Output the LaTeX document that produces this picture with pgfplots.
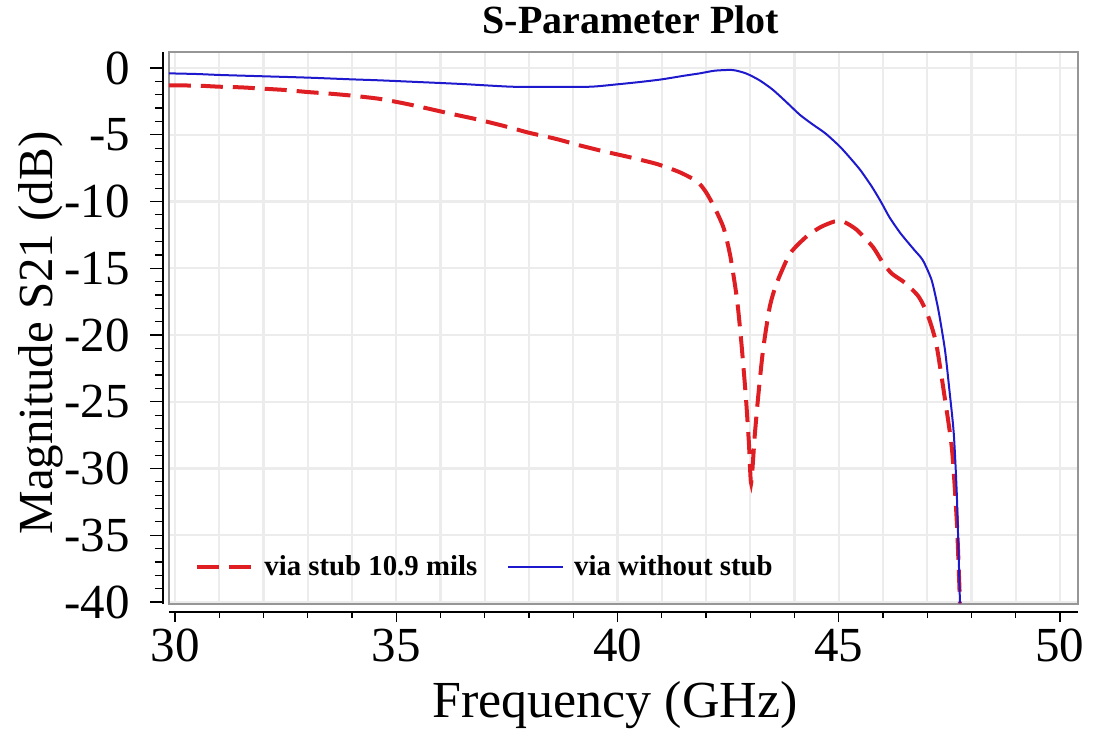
\documentclass[border=0pt]{standalone}
\usepackage{fontspec}
\setmainfont{Liberation Serif}
\usepackage{pgfplots}
\pgfplotsset{compat=1.18}
\definecolor{redc}{RGB}{222,30,35}
\definecolor{bluec}{RGB}{30,25,205}
\definecolor{gridc}{RGB}{236,236,236}
\definecolor{framec}{RGB}{150,150,150}
\begin{document}
\begin{tikzpicture}
\pgfplotsset{common/.style={width=454.5pt,height=276pt,scale only axis,
  xmin=29.864,xmax=50.407,ymin=-40.15,ymax=1.2}}
\begin{axis}[common,
  axis line style={framec, line width=0.9pt},
  xtick={30,31,...,50}, ytick={0,-5,...,-40}, xticklabels={}, yticklabels={},
  major tick length=0pt,
  grid=major, major grid style={gridc, line width=1.2pt},
  title={S-Parameter Plot},
  title style={font=\bfseries\fontsize{20}{24}\selectfont, at={([yshift=3pt]axis description cs:0.508,1)}, anchor=base},
  xlabel={Frequency (GHz)},
  xlabel style={font=\fontsize{26}{30}\selectfont, at={([yshift=-56.5pt]axis description cs:0.4906,0)}, anchor=base},
  ylabel={Magnitude S21 (dB)},
  ylabel style={font=\fontsize{24.5}{28}\selectfont, at={([xshift=-58pt]axis description cs:0,0.491)}, anchor=base},
  legend columns=2,
  legend style={draw=none, fill=none, at={([xshift=13pt,yshift=18.5pt]axis description cs:0,0)}, anchor=west,
    font=\bfseries\fontsize{14.4}{16}\selectfont, inner sep=0pt,
    /tikz/every odd column/.append style={column sep=3pt},
    /tikz/every even column/.append style={column sep=13pt}},
  legend image code/.code={\draw[#1] (0pt,0pt) -- (27.5pt,0pt);},
]
\addplot[redc, line width=2pt, dash pattern=on 11pt off 5pt, smooth, tension=0.4] coordinates {
(29.86,-1.3) (30.5,-1.32) (31.0,-1.4) (31.5,-1.45) (32.0,-1.55) (32.5,-1.65) (33.0,-1.8)
(33.5,-1.92) (34.0,-2.07) (34.6,-2.3) (35.1,-2.6) (35.6,-2.95) (36.2,-3.4) (36.9,-3.9)
(37.5,-4.4) (38.0,-4.85) (38.6,-5.3) (39.15,-5.8) (39.7,-6.25) (40.3,-6.7) (40.9,-7.2)
(41.4,-7.8) (41.8,-8.5) (42.0,-9.3) (42.2,-10.5)
(42.4,-12.0) (42.55,-14.1) (42.7,-17.3) (42.8,-20.6) (42.9,-24.6) (42.97,-28.1) (43.02,-31.1)
(43.1,-27.6) (43.18,-24.6) (43.29,-21.1) (43.44,-17.9) (43.6,-16.1) (43.9,-13.9) (44.28,-12.6)
(44.6,-11.9) (44.9,-11.5) (45.1,-11.5) (45.4,-12.1) (45.77,-13.4) (46.0,-14.6) (46.2,-15.4)
(46.5,-16.1) (46.8,-17.1) (47.0,-18.4) (47.2,-20.6) (47.4,-24.8) (47.56,-28.6) (47.67,-34.1)
(47.74,-40.1)};
\addlegendentry{via stub 10.9 mils}
\addplot[bluec, line width=1pt, smooth, tension=0.4] coordinates {
(29.86,-0.4) (30.5,-0.45) (31.0,-0.52) (32.0,-0.62) (33.0,-0.72) (34.0,-0.85) (34.6,-0.92)
(35.5,-1.05) (36.5,-1.2) (37.6,-1.4) (38.5,-1.42) (39.4,-1.4) (40.0,-1.22)
(40.5,-1.05) (41.0,-0.85) (41.5,-0.58) (41.86,-0.4) (42.2,-0.2) (42.6,-0.15) (42.9,-0.4)
(43.2,-0.9) (43.5,-1.6) (43.8,-2.5) (44.12,-3.5) (44.4,-4.2) (44.7,-4.9) (45.03,-5.9)
(45.3,-6.9) (45.5,-7.7) (45.75,-8.9) (45.95,-10.0) (46.15,-11.2) (46.4,-12.4) (46.7,-13.6) (46.9,-14.4)
(47.1,-15.9) (47.25,-18.1) (47.4,-21.1) (47.5,-24.1) (47.6,-27.4) (47.67,-32.1) (47.74,-40.1)};
\addlegendentry{via without stub}
\end{axis}
\begin{axis}[common, yshift=-4pt, axis x line=bottom, axis y line=none,
  axis line style={black, line width=0.6pt, -},
  xtick={30,35,...,50}, xticklabels={30,35,40,45,50}, minor x tick num=4,
  tick align=outside, major tick length=5pt, minor tick length=3pt,
  tick style={black, line width=0.6pt},
  xticklabel style={font=\fontsize{24.5}{28}\selectfont}]
\end{axis}
\begin{axis}[common, xshift=-3pt, axis y line=left, axis x line=none,
  axis line style={black, line width=0.6pt, -},
  ytick={0,-5,...,-40}, yticklabels={0,-5,-10,-15,-20,-25,-30,-35,-40}, minor y tick num=4,
  tick align=outside, major tick length=6.5pt, minor tick length=4pt,
  tick style={black, line width=0.6pt},
  yticklabel style={font=\fontsize{24.5}{28}\selectfont, xshift=-6.5pt}]
\end{axis}
\pgfresetboundingbox
\path[use as bounding box] (-84.5pt,-62.5pt) rectangle (462.5pt,302pt);
\end{tikzpicture}
\end{document}
